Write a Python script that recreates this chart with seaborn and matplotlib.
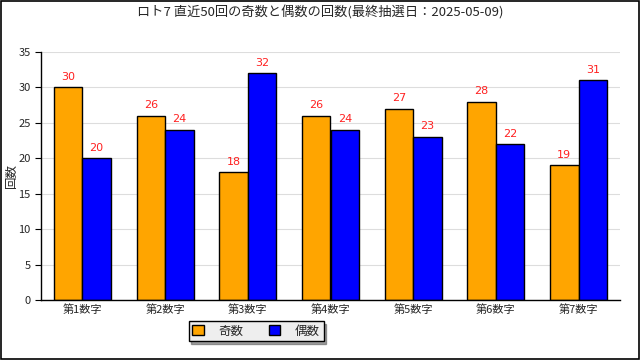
import matplotlib
matplotlib.use("Agg")
import matplotlib.pyplot as plt
import seaborn as sns
import pandas as pd
import numpy as np
from matplotlib.patches import Rectangle, Patch

categories = ["第1数字", "第2数字", "第3数字", "第4数字", "第5数字", "第6数字", "第7数字"]
odd_counts = [30, 26, 18, 26, 27, 28, 19]
even_counts = [20, 24, 32, 24, 23, 22, 31]
series_names = ["奇数", "偶数"]
title = "ロト7 直近50回の奇数と偶数の回数(最終抽選日：2025-05-09)"

sns.set_style("white")
plt.rcParams['font.family'] = ['Noto Sans CJK JP', 'DejaVu Sans']

df = pd.DataFrame({
    "cat": categories * 2,
    "series": [series_names[0]] * len(categories) + [series_names[1]] * len(categories),
    "value": odd_counts + even_counts,
})

fig = plt.figure(figsize=(6.4, 3.6), dpi=100)
ax = fig.add_axes([41/640, 60/360, 579/640, 248/360])
sns.barplot(data=df, x="cat", y="value", hue="series",
            palette=["#ffa500", "#0000ff"], width=0.69, saturation=1,
            edgecolor="black", linewidth=1, ax=ax, legend=False)

for cont in ax.containers:
    ax.bar_label(cont, padding=4, color="#ff2020", fontsize=8, family="DejaVu Sans")

ax.set_ylim(0, 35)
ax.set_xlim(-0.5, len(categories) - 0.5)
ax.set_yticks(range(0, 36, 5))
ax.yaxis.grid(True, color="#dddddd", linewidth=0.8)
ax.set_axisbelow(True)
ax.set_xlabel("")
ax.set_ylabel("回数", fontsize=9)
ax.yaxis.set_label_coords(-0.040, 0.5)
ax.set_xticks(range(len(categories)))
ax.set_xticklabels(categories, fontsize=8)
ax.tick_params(axis="x", which="major", length=0, pad=3)
ax.set_xticks(np.arange(-0.5, len(categories), 1.0), minor=True)
ax.tick_params(axis="x", which="minor", length=5, direction="in", color="black")
ax.tick_params(axis="y", length=4, direction="out", color="black", labelsize=8, left=True)
for s in ["top", "right"]:
    ax.spines[s].set_visible(False)
for s in ["left", "bottom"]:
    ax.spines[s].set_color("black")
    ax.spines[s].set_linewidth(1)

fig.suptitle(title, y=0.985, fontsize=9.5)

handles = [Patch(facecolor="#ffa500", edgecolor="black"), Patch(facecolor="#0000ff", edgecolor="black")]
leg = fig.legend(handles, series_names, loc="center", bbox_to_anchor=(256/640, 1 - 331/360),
                 ncol=2, frameon=True, fancybox=False, shadow=True, fontsize=9,
                 handlelength=0.9, handleheight=0.9, columnspacing=2.0, handletextpad=1.2,
                 borderpad=0.3)
leg.get_frame().set_facecolor("#eeeeee")
leg.get_frame().set_edgecolor("black")
leg.get_frame().set_alpha(1)

fig.patches.append(Rectangle((0.001, 0.002), 0.997, 0.996, transform=fig.transFigure,
                             fill=False, edgecolor="black", linewidth=1.2))
fig.savefig("out.png", dpi=100)
